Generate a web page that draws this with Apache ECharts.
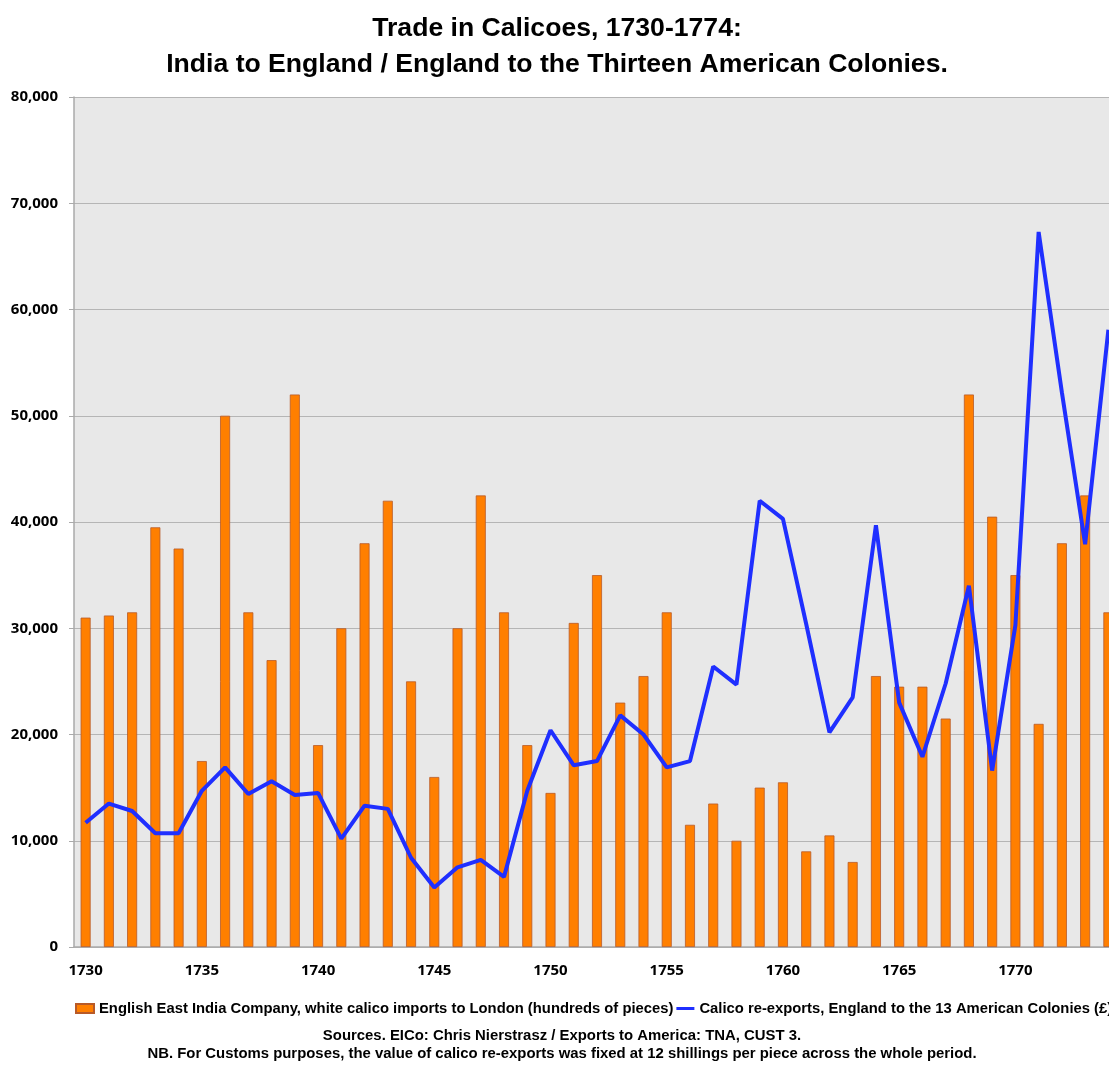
<!DOCTYPE html>
<html>
<head>
<meta charset="utf-8">
<title>Trade in Calicoes, 1730-1774</title>
<script src="https://cdn.jsdelivr.net/npm/echarts@6/dist/echarts.min.js"></script>
<style>
    html, body { margin: 0; padding: 0; background: #fff; overflow: hidden; }
    /* the original chart is cropped on the right, so the canvas runs past the window */
    #calicoChart { width: 1130px; height: 1066px; }
</style>
</head>
<body>
<div id="calicoChart"></div>
<script>
// years on the x axis
const years = [
    '1730', '1731', '1732', '1733', '1734', '1735', '1736', '1737', '1738', '1739',
    '1740', '1741', '1742', '1743', '1744', '1745', '1746', '1747', '1748', '1749',
    '1750', '1751', '1752', '1753', '1754', '1755', '1756', '1757', '1758', '1759',
    '1760', '1761', '1762', '1763', '1764', '1765', '1766', '1767', '1768', '1769',
    '1770', '1771', '1772', '1773', '1774'
];

// EIC white calico imports to London (hundreds of pieces)
const importsLondon = [
    31000, 31200, 31500, 39500, 37500, 17500, 50000, 31500, 27000, 52000,
    19000, 30000, 38000, 42000, 25000, 16000, 30000, 42500, 31500, 19000,
    14500, 30500, 35000, 23000, 25500, 31500, 11500, 13500, 10000, 15000,
    15500, 9000, 10500, 8000, 25500, 24500, 24500, 21500, 52000, 40500,
    35000, 21000, 38000, 42500, 31500
];

// calico re-exports, England to the 13 colonies (pounds)
const reexportsColonies = [
    11700, 13500, 12800, 10700, 10700, 14700, 16900, 14400, 15600, 14300,
    14500, 10200, 13300, 13000, 8400, 5600, 7500, 8200, 6600, 14700,
    20400, 17100, 17500, 21800, 20000, 16900, 17500, 26400, 24700, 42000,
    40300, 30400, 20200, 23500, 39700, 23000, 17900, 24800, 34000, 16600,
    30300, 67300, 52200, 37900, 58100
];

const seriesNames = [
    'English East India Company, white calico imports to London (hundreds of pieces)',
    'Calico re-exports, England to the 13 American Colonies (£)'
];

const titleLines = [
    'Trade in Calicoes, 1730-1774:',
    'India to England / England to the Thirteen American Colonies.'
];

const sourceLines = [
    'Sources. EICo: Chris Nierstrasz / Exports to America: TNA, CUST 3.',
    'NB. For Customs purposes, the value of calico re-exports was fixed at 12 shillings per piece across the whole period.'
];

const narrowFont = '"Liberation Sans Narrow", "Arial Narrow", sans-serif';
const labelFont = '"Open Sans", sans-serif';

function textLine(text, x, y, size) {
    return {
        type: 'text',
        x: x,
        y: y,
        style: {
            text: text,
            align: 'center',
            verticalAlign: 'middle',
            font: 'bold ' + size + 'px ' + narrowFont,
            fill: '#000'
        }
    };
}

function setOptions() {
    return {
        backgroundColor: '#ffffff',
        animation: false,
        legend: {
            left: 70,
            top: 996,
            width: 1500,
            itemWidth: 18,
            itemHeight: 9,
            itemGap: 3,
            textStyle: {
                fontFamily: narrowFont,
                fontSize: 14.8,
                fontWeight: 'bold',
                color: '#000'
            },
            data: [
                { name: seriesNames[0], icon: 'rect' },
                { name: seriesNames[1], icon: 'path://M0,0 H18 V3 H0 Z' }
            ]
        },
        graphic: [
            textLine(titleLines[0], 557, 29, 26.6),
            textLine(titleLines[1], 557, 65, 26.6),
            textLine(sourceLines[0], 562, 1036, 14.9),
            textLine(sourceLines[1], 562, 1054, 14.9)
        ],
        grid: {
            left: 74,
            top: 97,
            width: 1046,
            height: 850,
            show: true,
            backgroundColor: '#e8e8e8',
            borderWidth: 0
        },
        xAxis: {
            type: 'category',
            data: years,
            boundaryGap: true,
            axisLine: { lineStyle: { color: '#aaaaaa', width: 1.5 } },
            axisTick: {
                interval: 0,
                length: 5,
                lineStyle: { color: '#aaaaaa', width: 1 }
            },
            axisLabel: {
                interval: 4,
                margin: 16,
                fontFamily: labelFont,
                fontSize: 15,
                fontWeight: 'bold',
                color: '#000'
            }
        },
        yAxis: {
            type: 'value',
            min: 0,
            max: 80000,
            interval: 10000,
            axisLine: { show: true, lineStyle: { color: '#aaaaaa', width: 1.5 } },
            axisTick: { show: true, length: 5, lineStyle: { color: '#aaaaaa' } },
            splitLine: { lineStyle: { color: '#b5b5b5', width: 1.2 } },
            axisLabel: {
                margin: 16,
                fontFamily: labelFont,
                fontSize: 15,
                fontWeight: 'bold',
                color: '#000',
                formatter: function (v) {
                    return String(v).replace(/\B(?=(\d{3})+(?!\d))/g, ',');
                }
            }
        },
        series: [
            {
                name: seriesNames[0],
                type: 'bar',
                data: importsLondon,
                barWidth: 10,
                itemStyle: {
                    color: '#ff7f00',
                    borderColor: '#b85a28',
                    borderWidth: 0.8
                }
            },
            {
                name: seriesNames[1],
                type: 'line',
                data: reexportsColonies,
                symbol: 'none',
                lineStyle: { color: '#1f2fff', width: 4 },
                itemStyle: { color: '#1f2fff' },
                z: 5
            }
        ]
    };
}

let calicoChart = echarts.init(document.getElementById('calicoChart'));
calicoChart.setOption(setOptions());
</script>
</body>
</html>
